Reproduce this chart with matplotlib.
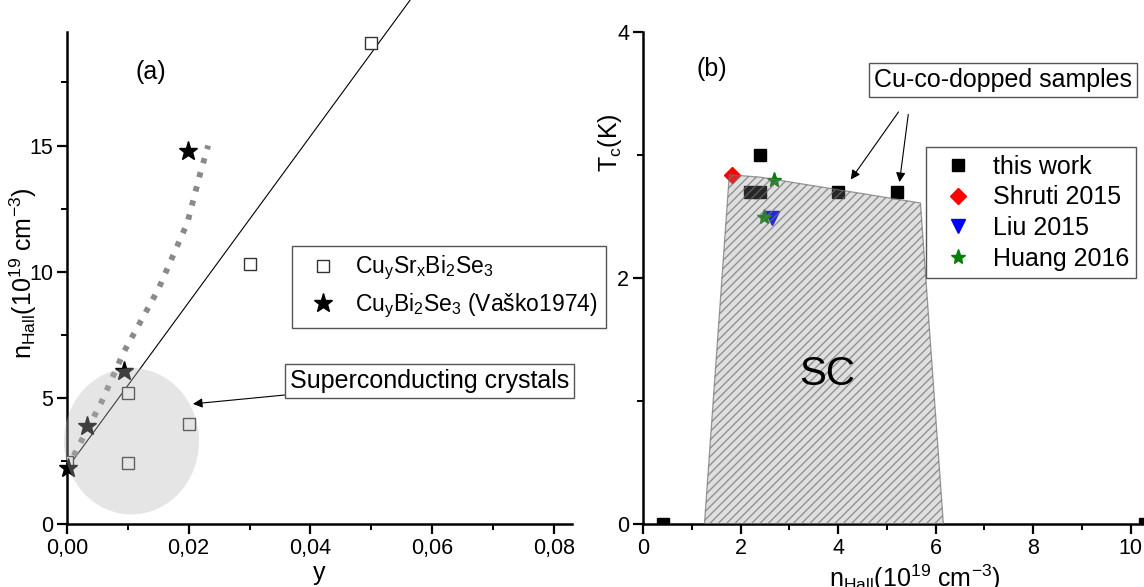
import matplotlib
matplotlib.use("Agg")
import matplotlib.pyplot as plt
from matplotlib.patches import Ellipse, Polygon
from matplotlib.ticker import MultipleLocator, FixedLocator, FixedFormatter

plt.rcParams['font.family'] = ['Liberation Sans', 'DejaVu Sans']
plt.rcParams['mathtext.fontset'] = 'custom'
plt.rcParams['mathtext.rm'] = 'Liberation Sans'
plt.rcParams['mathtext.it'] = 'Liberation Sans:italic'
plt.rcParams['mathtext.default'] = 'regular'
plt.rcParams['hatch.linewidth'] = 1.0

# ---------------- data: panel (a) ----------------
sq_y = [0.0, 0.01, 0.01, 0.02, 0.03, 0.05]
sq_n = [2.44, 5.2, 2.4, 3.97, 10.3, 19.05]
star_y = [0.0002, 0.0033, 0.0093, 0.0199]
star_n = [2.22, 3.89, 6.08, 14.8]
fit_y = [0.0, 0.0565]
fit_n = [2.2, 20.8]
guide_y = [0.0, 0.0056, 0.0093, 0.0150, 0.0198, 0.0219, 0.0232]
guide_n = [2.2, 4.8, 6.8, 9.3, 11.95, 13.9, 15.0]
xticks_a = [0.0, 0.02, 0.04, 0.06, 0.08]
xticklabels_a = ['0,00', '0,02', '0,04', '0,06', '0,08']
yticks_a = [0, 5, 10, 15]

# ---------------- data: panel (b) ----------------
tw_n = [0.4, 2.4, 2.2, 2.4, 4.0, 5.2, 10.3]
tw_tc = [0.0, 3.0, 2.7, 2.7, 2.7, 2.7, 0.0]
shruti_n = [1.82]
shruti_tc = [2.84]
liu_n = [2.65]
liu_tc = [2.49]
huang_n = [2.48, 2.69]
huang_tc = [2.50, 2.80]
sc_n = [1.26, 1.77, 2.4, 5.69, 6.16]
sc_tc = [0.0, 2.84, 2.82, 2.61, 0.0]
xticks_b = [0, 2, 4, 6, 8, 10]
yticks_b = [0, 2, 4]

W, H = 1144, 587
fig = plt.figure(figsize=(W / 100, H / 100), dpi=100)

def frac(x0, x1, ytop, ybot):
    return [x0 / W, (H - ybot) / H, (x1 - x0) / W, (ybot - ytop) / H]

axa = fig.add_axes(frac(67, 572, 32, 524))
axb = fig.add_axes(frac(643, 1155, 32, 524))

for ax in (axa, axb):
    ax.spines['top'].set_visible(False)
    ax.spines['right'].set_visible(False)
    ax.spines['left'].set_linewidth(1.8)
    ax.spines['bottom'].set_linewidth(1.8)
    ax.tick_params(which='major', direction='out', length=7, width=1.6,
                   labelsize=15.5, pad=3)
    ax.tick_params(which='minor', direction='out', length=4, width=1.4)

# ---------------- panel (a) ----------------
axa.set_xlim(0, 0.083)
axa.set_ylim(0, 19.5)
axa.xaxis.set_major_locator(FixedLocator(xticks_a))
axa.xaxis.set_major_formatter(FixedFormatter(xticklabels_a))
axa.xaxis.set_minor_locator(MultipleLocator(0.01))
axa.yaxis.set_major_locator(FixedLocator(yticks_a))
axa.yaxis.set_minor_locator(MultipleLocator(2.5))

axa.plot(fit_y, fit_n, color='black', lw=0.8, clip_on=False, zorder=2)
axa.plot(guide_y, guide_n, color='#8a8a8a', lw=4.2, linestyle=(0, (0.9, 1.6)),
         zorder=3)
axa.plot(sq_y, sq_n, linestyle='none', marker='s', markersize=9,
         markerfacecolor='white', markeredgecolor='#333333', markeredgewidth=1.0,
         zorder=4, label='Cu$_y$Sr$_x$Bi$_2$Se$_3$')
axa.plot(star_y, star_n, linestyle='none', marker='*', markersize=14,
         color='black', zorder=5, clip_on=False,
         label='Cu$_y$Bi$_2$Se$_3$ (Vaško1974)')

ell = Ellipse((0.0106, 3.28), 0.0222, 5.8, facecolor='#b5b5b5', alpha=0.35,
              edgecolor='none', zorder=6, clip_on=False)
axa.add_patch(ell)

axa.text(0.0137, 17.9, '(a)', fontsize=18, ha='center', va='center')

axa.annotate('Superconducting crystals', xy=(0.0207, 4.76), xytext=(0.0596, 5.67),
             fontsize=18, ha='center', va='center',
             bbox=dict(boxstyle='square,pad=0.2', facecolor='white',
                       edgecolor='#555555', lw=1.0),
             arrowprops=dict(arrowstyle='-|>', color='black', lw=0.8,
                             mutation_scale=14, shrinkA=0, shrinkB=0),
             zorder=7, annotation_clip=False)

leg = axa.legend(loc='upper left', bbox_to_anchor=(0.4455, 0.565),
                 borderaxespad=0, fontsize=16.5, frameon=True, fancybox=False,
                 framealpha=1, edgecolor='#555555', handlelength=2.0,
                 handletextpad=0.4, borderpad=0.35, labelspacing=0.4)
leg.get_frame().set_linewidth(1.0)

axa.set_xlabel('y', fontsize=18, labelpad=2)
axa.set_ylabel('n$_{Hall}$(10$^{19}$ cm$^{-3}$)', fontsize=18)
axa.yaxis.set_label_coords(-0.056, 0.51)
axa.xaxis.set_label_coords(0.5, -0.075)

# ---------------- panel (b) ----------------
axb.set_xlim(0, 10.5)
axb.set_ylim(0, 4)
axb.xaxis.set_major_locator(FixedLocator(xticks_b))
axb.xaxis.set_minor_locator(MultipleLocator(1))
axb.yaxis.set_major_locator(FixedLocator(yticks_b))
axb.yaxis.set_minor_locator(MultipleLocator(1))

axb.plot(tw_n, tw_tc, linestyle='none', marker='s', markersize=8,
         color='black', zorder=3, label='this work')
axb.plot(shruti_n, shruti_tc, linestyle='none', marker='D', markersize=8,
         color='red', zorder=3, label='Shruti 2015')
axb.plot(liu_n, liu_tc, linestyle='none', marker='v', markersize=10,
         color='blue', zorder=3, label='Liu 2015')
axb.plot(huang_n, huang_tc, linestyle='none', marker='*', markersize=11,
         color='green', zorder=3, label='Huang 2016')

pts = list(zip(sc_n, sc_tc))
fill = Polygon(pts, closed=True, facecolor='#8c8c8c', alpha=0.28,
               edgecolor='none', zorder=4)
axb.add_patch(fill)
hatch = Polygon(pts, closed=True, facecolor='none', edgecolor='#707070',
                hatch='////', lw=0.9, alpha=0.7, zorder=4)
axb.add_patch(hatch)

axb.text(3.77, 1.22, 'SC', fontsize=29, ha='center', va='center', zorder=5)
axb.text(1.41, 3.7, '(b)', fontsize=18, ha='center', va='center')

axb.text(7.38, 3.61, 'Cu-co-dopped samples', fontsize=18, ha='center',
         va='center', bbox=dict(boxstyle='square,pad=0.2', facecolor='white',
                                edgecolor='#555555', lw=1.0), clip_on=False)
axb.annotate('', xy=(4.26, 2.80), xytext=(5.24, 3.35),
             arrowprops=dict(arrowstyle='-|>', color='black', lw=0.8,
                             mutation_scale=14, shrinkA=0, shrinkB=0))
axb.annotate('', xy=(5.26, 2.78), xytext=(5.44, 3.33),
             arrowprops=dict(arrowstyle='-|>', color='black', lw=0.8,
                             mutation_scale=14, shrinkA=0, shrinkB=0))

legb = axb.legend(loc='upper left', bbox_to_anchor=(0.552, 0.766),
                  borderaxespad=0, fontsize=18, frameon=True, fancybox=False,
                  framealpha=1, edgecolor='#555555', handlelength=1.96,
                  handletextpad=0.42, borderpad=0.3, labelspacing=0.27)
legb.get_frame().set_linewidth(1.0)

axb.set_xlabel('n$_{Hall}$(10$^{19}$ cm$^{-3}$)', fontsize=18)
axb.xaxis.set_label_coords(0.53, -0.078)
axb.set_ylabel('T$_c$(K)', fontsize=18)
axb.yaxis.set_label_coords(-0.037, 0.776)

fig.savefig('out.png', dpi=100)
